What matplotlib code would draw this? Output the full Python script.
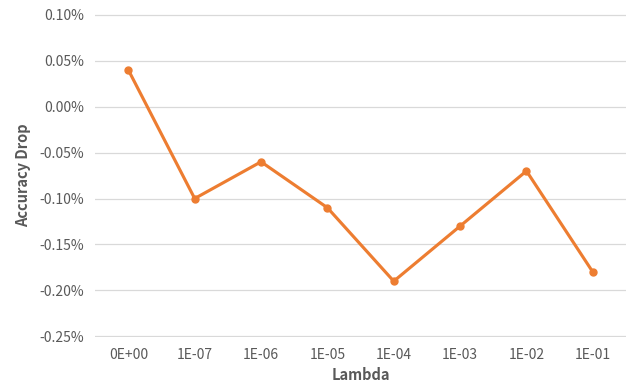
import matplotlib
matplotlib.use("Agg")
import matplotlib.pyplot as plt
from matplotlib.ticker import FuncFormatter, MultipleLocator

# values (in percent)
lambdas = ["0E+00", "1E-07", "1E-06", "1E-05", "1E-04", "1E-03", "1E-02", "1E-01"]
acc_drop = [0.04, -0.10, -0.06, -0.11, -0.19, -0.13, -0.07, -0.18]

plt.rcParams['font.family'] = ['Noto Sans CJK SC', 'DejaVu Sans']
grey = '#595959'

fig = plt.figure(figsize=(6.26, 3.88), dpi=100)
ax = fig.add_axes([0.152, 0.132, 0.848, 0.831])

x = range(len(lambdas))
ax.plot(x, acc_drop, color='#ED7D31', linewidth=2.25, marker='o', markersize=5)

ax.set_xlim(-0.5, len(lambdas) - 0.5)
ax.set_ylim(-0.2505, 0.1005)
ax.yaxis.set_major_locator(MultipleLocator(0.05))
ax.yaxis.set_major_formatter(FuncFormatter(lambda v, p: "%.2f%%" % v))
ax.set_xticks(list(x))
ax.set_xticklabels(lambdas)

ax.grid(axis='y', color='#D9D9D9', linewidth=0.9)
ax.set_axisbelow(True)
for s in ax.spines.values():
    s.set_visible(False)
ax.tick_params(length=0, colors=grey, labelsize=10, pad=8)

ax.set_xlabel('Lambda', color=grey, fontsize=10.5, fontweight='bold', labelpad=4)
ax.set_ylabel('Accuracy Drop', color=grey, fontsize=10.5, fontweight='bold', labelpad=6)

fig.savefig('out.png', dpi=100)
